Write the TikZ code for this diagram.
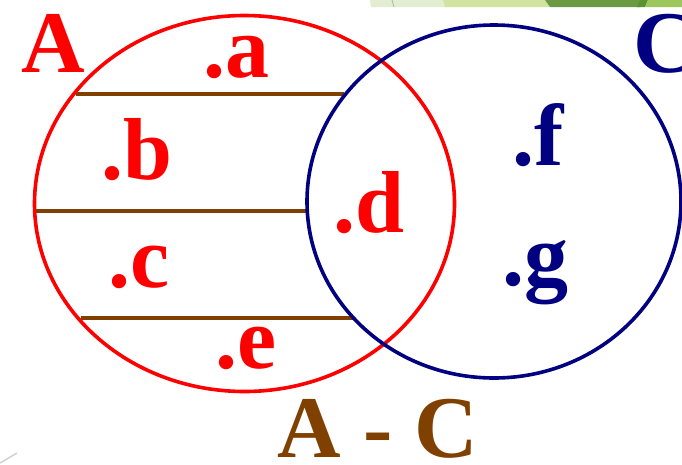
\documentclass[tikz,border=0pt]{standalone}
\usepackage{fontspec}
\setmainfont{Liberation Serif}
\definecolor{redA}{HTML}{FF0000}
\definecolor{blueC}{HTML}{000080}
\definecolor{brownL}{HTML}{804000}
\definecolor{gA}{HTML}{E3EDD0}
\definecolor{gB}{HTML}{D1E3A0}
\definecolor{gC}{HTML}{6A9A42}
\definecolor{gD}{HTML}{9CC75C}
\definecolor{gE}{HTML}{5A9230}
\tikzset{
  lbl/.style={anchor=base, inner sep=0pt, font=\fontsize{88}{88}\selectfont\bfseries},
  setline/.style={line width=3.6pt},
  hatch/.style={line width=4pt, draw=brownL}
}
\begin{document}
\begin{tikzpicture}[x=1pt,y=-1pt]
\useasboundingbox (0,0) rectangle (682,464);
\fill[white] (0,0) rectangle (682,464);
% top decoration
\fill[gA] (370,0) -- (443,0) -- (445,7) -- (371,7) -- cycle;
\fill[gB] (443,0) -- (545,0) -- (550,7) -- (445,7) -- cycle;
\fill[gC] (545,0) -- (645,0) -- (640,7) -- (550,7) -- cycle;
\fill[gE] (640,0) -- (648,0) -- (645,7) -- (637,7) -- cycle;
\fill[gD] (648,0) -- (682,0) -- (682,7) -- (645,7) -- cycle;
\draw[gray!60, line width=0.8pt] (392,0) -- (394,7);
% bottom-left faint line
\coordinate (bl1) at (0,463);
\coordinate (bl2) at (17,453);
\draw[gray!35, line width=1.5pt] (bl1) -- (bl2);
% brown lines
\coordinate (h1l) at (76,93.5);
\coordinate (h1r) at (344,93.5);
\coordinate (h2l) at (35,211);
\coordinate (h2r) at (306,211);
\coordinate (h3l) at (81,318);
\coordinate (h3r) at (354,318);
\draw[hatch] (h1l) -- (h1r);
\draw[hatch] (h2l) -- (h2r);
\draw[hatch] (h3l) -- (h3r);
% circles
\draw[setline, redA] (244.5,203.5) ellipse [x radius=210pt, y radius=188pt];
\draw[setline, blueC] (494,201.5) ellipse [x radius=187pt, y radius=176.5pt];
% labels
\node[lbl, redA] (A) at (53.5,72) {A};
\node[lbl, blueC] (C) at (665,72) {C};
\node[lbl, redA] (a) at (236,77) {.a};
\node[lbl, redA] (b) at (137,179) {.b};
\node[lbl, redA] (c) at (139,287) {.c};
\node[lbl, redA] (d) at (369,232.5) {.d};
\node[lbl, redA] (e) at (246,368) {.e};
\node[lbl, blueC] (f) at (538,165) {.f};
\node[lbl, blueC] (g) at (535,285) {.g};
\node[lbl, brownL] (AC) at (378,457) {A - C};
\end{tikzpicture}
\end{document}
